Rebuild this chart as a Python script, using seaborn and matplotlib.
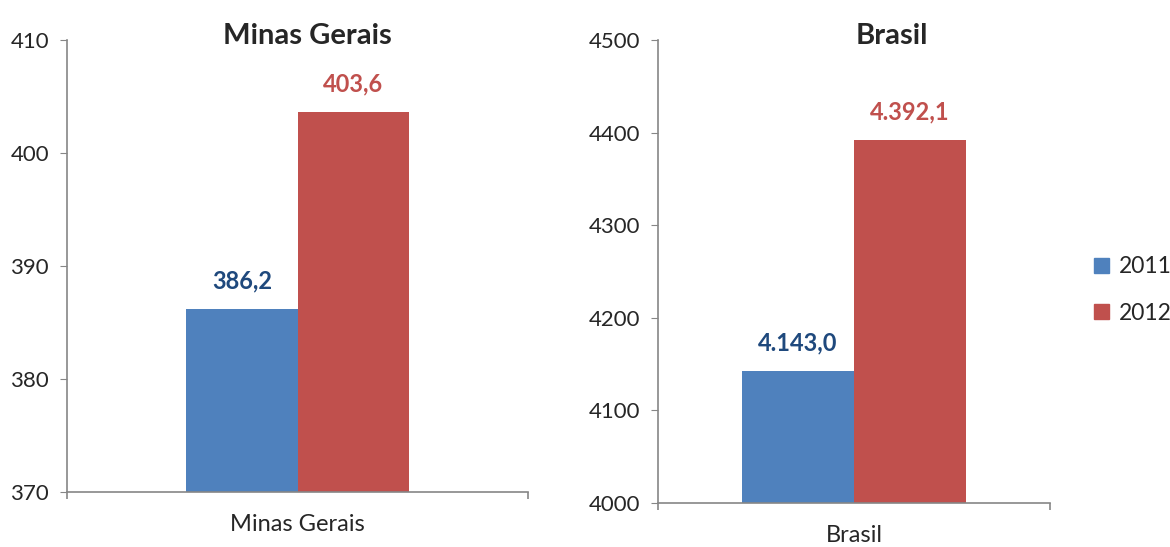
import pandas as pd
import matplotlib.pyplot as plt
import seaborn as sns

regioes = ["Minas Gerais", "Minas Gerais", "Brasil", "Brasil"]
anos = ["2011", "2012", "2011", "2012"]
valores = [386.2, 403.6, 4143.0, 4392.1]
rotulos = ["386,2", "403,6", "4.143,0", "4.392,1"]

cores = {"2011": "#4F81BD", "2012": "#C0504D"}
cores_rotulo = {"2011": "#1F497D", "2012": "#C0504D"}

df = pd.DataFrame({"regiao": regioes, "ano": anos, "valor": valores, "rotulo": rotulos})

sns.set_style("white")
plt.rcParams["font.family"] = ["Lato", "DejaVu Sans"]

fig = plt.figure(figsize=(11.7, 5.47), dpi=100)
ax1 = fig.add_axes([0.0573, 0.1005, 0.394, 0.826])
ax2 = fig.add_axes([0.5624, 0.0804, 0.335, 0.846])

# eixo, regiao, limites, ticks, largura das barras, posicao do titulo
config = [
    (ax1, "Minas Gerais", (370, 410), range(370, 411, 10), 0.482, 0.522),
    (ax2, "Brasil", (4000, 4500), range(4000, 4501, 100), 0.572, 0.597),
]

for ax, regiao, lims, ticks, largura, xt in config:
    sub = df[df["regiao"] == regiao]
    sns.barplot(data=sub, x="regiao", y="valor", hue="ano", palette=cores,
                width=largura, ax=ax, legend=False, saturation=1, linewidth=0)
    ax.set_xlim(-0.5, 0.5)
    ax.set_ylim(*lims)
    ax.set_yticks(list(ticks))
    ax.set_xlabel("")
    ax.set_ylabel("")
    ax.set_title(regiao, fontsize=21, fontweight="bold", pad=-3, x=xt)
    for cont, ano in zip(ax.containers, ["2011", "2012"]):
        labs = sub[sub["ano"] == ano]["rotulo"].tolist()
        ax.bar_label(cont, labels=labs, padding=12, fontsize=17,
                     fontweight="bold", color=cores_rotulo[ano])
    for s in ["top", "right"]:
        ax.spines[s].set_visible(False)
    for s in ["left", "bottom"]:
        ax.spines[s].set_color("#868686")
        ax.spines[s].set_linewidth(1.2)
    ax.tick_params(axis="y", left=True, length=5, color="#868686",
                   labelsize=16, pad=8)
    ax.tick_params(axis="x", which="major", length=0, labelsize=17, pad=16)
    ax.set_xticks([-0.5, 0.5], minor=True)
    ax.tick_params(axis="x", which="minor", bottom=True, length=5,
                   color="#868686", width=1.2)

handles = [plt.Rectangle((0, 0), 1, 1, color=cores[a]) for a in ["2011", "2012"]]
fig.legend(handles, ["2011", "2012"], loc="center left",
           bbox_to_anchor=(0.925, 0.47), frameon=False, fontsize=16.5,
           handlelength=0.65, handleheight=0.65, handletextpad=0.45,
           labelspacing=1.1, borderpad=0)

fig.savefig("out.png", dpi=100)
